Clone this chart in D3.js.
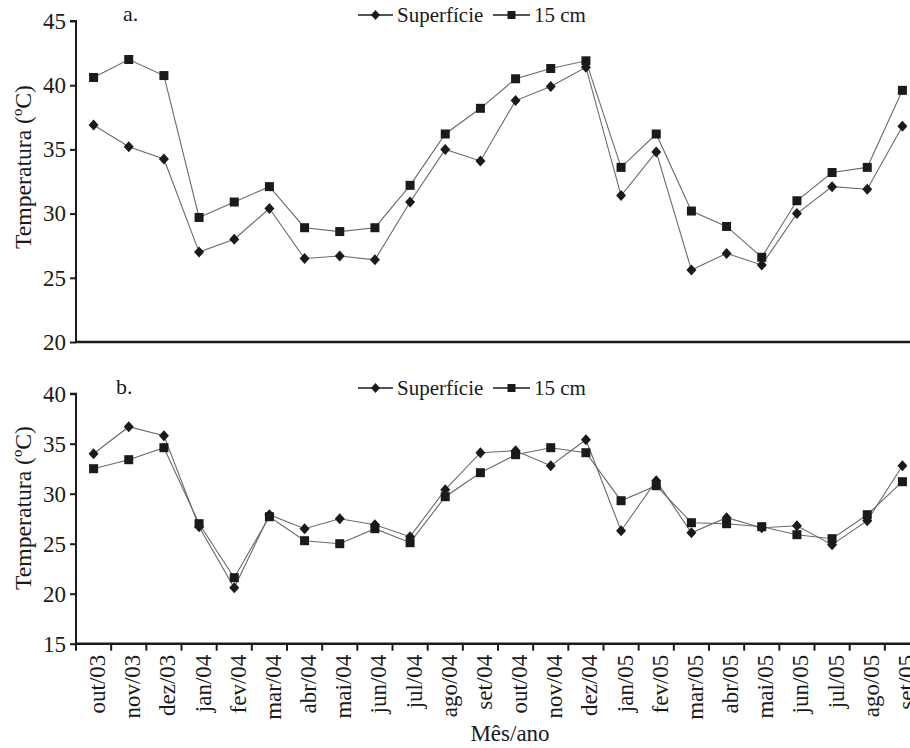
<!DOCTYPE html>
<html>
<head>
<meta charset="utf-8">
<script src="https://cdn.jsdelivr.net/npm/d3@7"></script>
<style>
  body { margin: 0; background: #fff; }
  svg { display: block; font-family: "Liberation Serif", "Times New Roman", serif; }
</style>
</head>
<body>
<div id="chart"></div>
<script>
// months on the x axis
var months = ["out/03", "nov/03", "dez/03", "jan/04", "fev/04", "mar/04", "abr/04", "mai/04",
    "jun/04", "jul/04", "ago/04", "set/04", "out/04", "nov/04", "dez/04", "jan/05",
    "fev/05", "mar/05", "abr/05", "mai/05", "jun/05", "jul/05", "ago/05", "set/05"];

// panel a.
var supA = [36.9, 35.2, 34.25, 27.0, 28.0, 30.4, 26.5, 26.7, 26.4, 30.9, 35.0, 34.1,
    38.8, 39.9, 41.4, 31.4, 34.8, 25.6, 26.9, 26.0, 30.0, 32.1, 31.9, 36.8];
var cm15A = [40.6, 42.0, 40.75, 29.7, 30.9, 32.1, 28.9, 28.6, 28.9, 32.2, 36.2, 38.2,
    40.5, 41.3, 41.9, 33.6, 36.2, 30.2, 29.0, 26.6, 31.0, 33.2, 33.6, 39.6];

// panel b.
var supB = [34.0, 36.7, 35.8, 26.7, 20.6, 27.9, 26.5, 27.5, 26.9, 25.7, 30.4, 34.1,
    34.3, 32.8, 35.4, 26.3, 31.3, 26.1, 27.6, 26.6, 26.8, 24.9, 27.3, 32.8];
var cm15B = [32.5, 33.4, 34.6, 27.0, 21.6, 27.7, 25.3, 25.0, 26.5, 25.1, 29.7, 32.1,
    33.9, 34.6, 34.1, 29.3, 30.8, 27.1, 27.0, 26.7, 25.9, 25.5, 27.9, 31.2];

var ticksA = [20, 25, 30, 35, 40, 45];
var ticksB = [15, 20, 25, 30, 35, 40];

var width = 910, height = 748;
var left = 76, right = 920;
var ink = "#1a1a1a";

var svg = d3.select("#chart").append("svg")
    .attr("width", width)
    .attr("height", height);

svg.append("rect").attr("width", width).attr("height", height).attr("fill", "#fff");

var x = d3.scaleBand()
    .domain(months)
    .range([left, right])
    .paddingInner(0).paddingOuter(0);

function panel(opts) {
    var y = d3.scaleLinear().domain([opts.ticks[0], opts.ticks[opts.ticks.length - 1]])
        .range([opts.bottom, opts.top]);

    var g = svg.append("g");

    // y axis
    var yAxis = d3.axisLeft(y).tickValues(opts.ticks).tickSize(6).tickPadding(4)
        .tickFormat(d3.format("d"));
    var ya = g.append("g")
        .attr("transform", "translate(" + left + ",0)")
        .call(yAxis);
    ya.select(".domain").attr("stroke", ink).attr("stroke-width", 2)
        .attr("d", "M-6," + y.range()[1] + "H0V" + y.range()[0]);
    ya.selectAll(".tick line").attr("stroke", ink).attr("stroke-width", 2);
    ya.selectAll(".tick text")
        .attr("fill", ink)
        .style("font-size", "23px")
        .style("font-family", "Liberation Serif, serif");

    // x axis line
    g.append("line")
        .attr("x1", left - 1).attr("x2", right)
        .attr("y1", opts.bottom).attr("y2", opts.bottom)
        .attr("stroke", ink).attr("stroke-width", 2.5);

    if (opts.xticks) {
        var edges = months.map(function(m) { return x(m); }).concat([right]);
        g.selectAll(".xt")
            .data(edges)
            .enter().append("line")
            .attr("class", "xt")
            .attr("x1", function(d) { return d; })
            .attr("x2", function(d) { return d; })
            .attr("y1", opts.bottom)
            .attr("y2", opts.bottom + 7)
            .attr("stroke", ink).attr("stroke-width", 2);

        g.selectAll(".xl")
            .data(months)
            .enter().append("text")
            .attr("class", "xl")
            .attr("transform", function(d) {
                return "translate(" + (x(d) + x.bandwidth() / 2 + 3.5) + "," + (opts.bottom + 11) + ") rotate(-90)";
            })
            .attr("text-anchor", "end")
            .attr("dy", "0.35em")
            .attr("fill", ink)
            .style("font-size", "23px")
            .text(function(d) { return d; });
    }

    // y title
    g.append("text")
        .attr("transform", "translate(" + 31 + "," + opts.titleY + ") rotate(-90)")
        .attr("text-anchor", "middle")
        .attr("fill", ink)
        .attr("textLength", 164)
        .attr("lengthAdjust", "spacingAndGlyphs")
        .style("font-size", "23px")
        .text("Temperatura (ºC)");

    // panel letter
    g.append("text")
        .attr("x", opts.letterX).attr("y", opts.letterY)
        .attr("fill", ink)
        .style("font-size", "22px")
        .text(opts.letter);

    var line = d3.line()
        .x(function(d, i) { return x(months[i]) + x.bandwidth() / 2; })
        .y(function(d) { return y(d); });

    [opts.sup, opts.cm15].forEach(function(s) {
        g.append("path")
            .datum(s)
            .attr("d", line)
            .attr("fill", "none")
            .attr("stroke", "#6a6a6a")
            .attr("stroke-width", 1.1);
    });

    // square markers (15 cm)
    g.selectAll(".sq")
        .data(opts.cm15)
        .enter().append("rect")
        .attr("class", "sq")
        .attr("x", function(d, i) { return x(months[i]) + x.bandwidth() / 2 - 4.5; })
        .attr("y", function(d) { return y(d) - 4.5; })
        .attr("width", 9).attr("height", 9)
        .attr("fill", ink);

    // diamond markers (Superfície)
    g.selectAll(".dm")
        .data(opts.sup)
        .enter().append("path")
        .attr("class", "dm")
        .attr("transform", function(d, i) {
            return "translate(" + (x(months[i]) + x.bandwidth() / 2) + "," + y(d) + ")";
        })
        .attr("d", "M0,-5.5L5,0L0,5.5L-5,0Z")
        .attr("fill", ink);

    // legend
    var ly = opts.legendY;
    var lg = g.append("g");
    lg.append("line").attr("x1", 358).attr("x2", 393).attr("y1", ly).attr("y2", ly)
        .attr("stroke", ink).attr("stroke-width", 1.5);
    lg.append("path").attr("transform", "translate(375.5," + ly + ")")
        .attr("d", "M0,-5L4.5,0L0,5L-4.5,0Z").attr("fill", ink);
    lg.append("text").attr("x", 397).attr("y", ly).attr("dy", "0.33em")
        .attr("fill", ink).style("font-size", "21px").text("Superfície");
    lg.append("line").attr("x1", 493).attr("x2", 530).attr("y1", ly).attr("y2", ly)
        .attr("stroke", ink).attr("stroke-width", 1.5);
    lg.append("rect").attr("x", 507.5).attr("y", ly - 4).attr("width", 8).attr("height", 8)
        .attr("fill", ink);
    lg.append("text").attr("x", 534).attr("y", ly).attr("dy", "0.33em")
        .attr("fill", ink).style("font-size", "21px").text("15 cm");
}

panel({
    ticks: ticksA, top: 21, bottom: 342, sup: supA, cm15: cm15A, titleY: 167,
    letter: "a.", letterX: 123, letterY: 21, legendY: 15, xticks: false
});

panel({
    ticks: ticksB, top: 393.7, bottom: 643.7, sup: supB, cm15: cm15B, titleY: 508,
    letter: "b.", letterX: 116, letterY: 394, legendY: 388, xticks: true
});

svg.append("text")
    .attr("x", 510).attr("y", 741)
    .attr("text-anchor", "middle")
    .attr("fill", ink)
    .style("font-size", "23px")
    .text("Mês/ano");
</script>
</body>
</html>
